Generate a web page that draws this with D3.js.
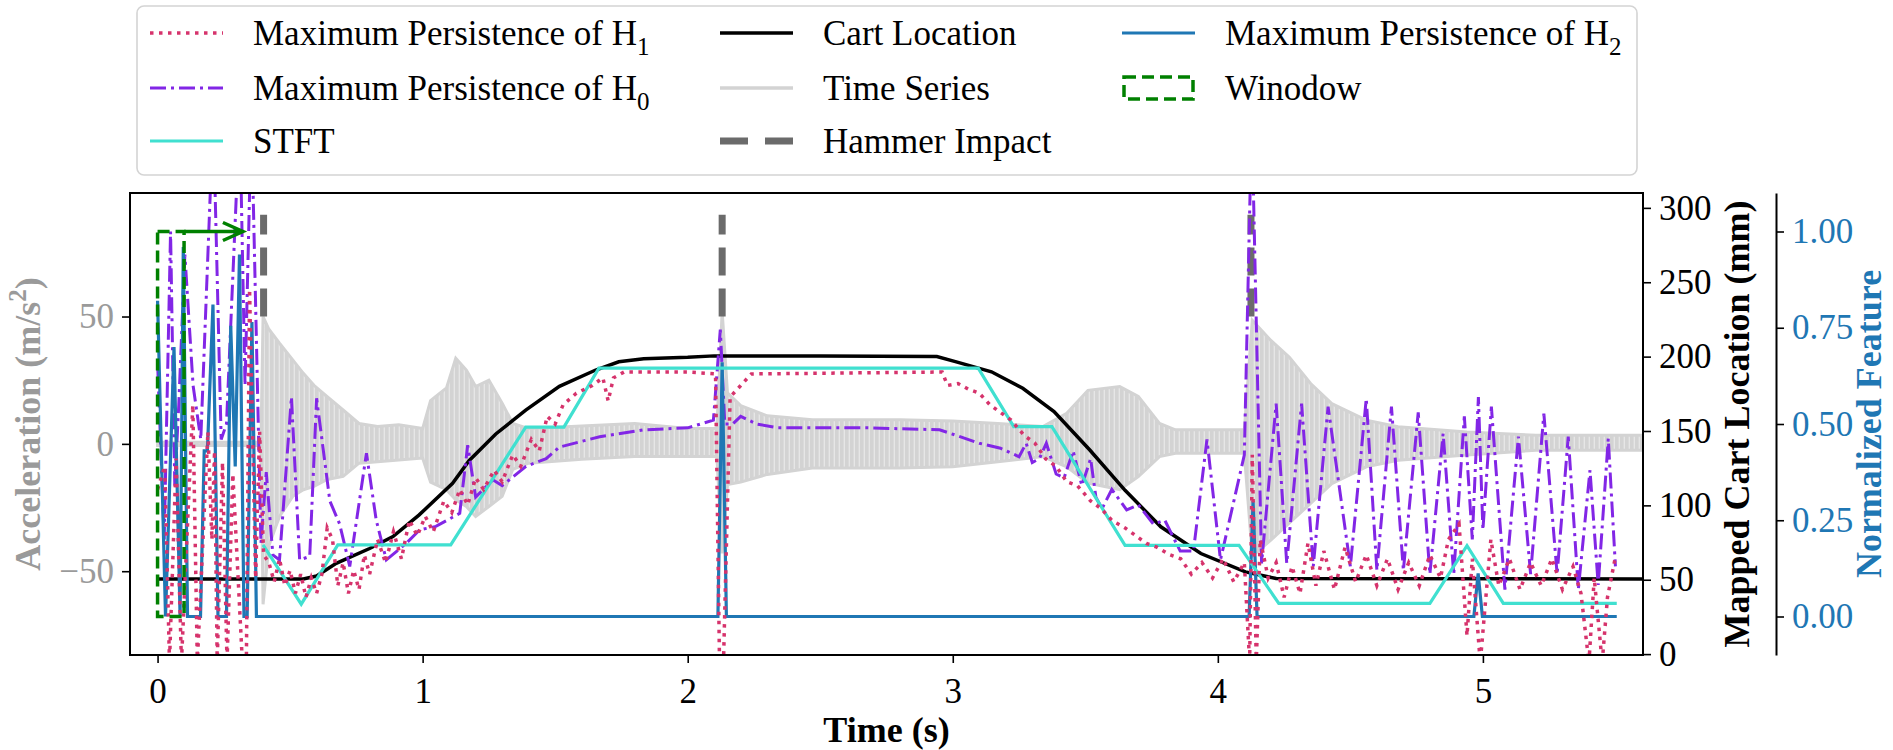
<!DOCTYPE html>
<html>
<head>
<meta charset="utf-8">
<script src="https://cdn.jsdelivr.net/npm/d3@7"></script>
<style>
  body { margin: 0; background: #fff; }
  svg { display: block; font-family: "Liberation Serif", "DejaVu Serif", "Times New Roman", serif; }
</style>
</head>
<body>
<script>
"use strict";

// time (s) ticks
const xTicks = [0, 1, 2, 3, 4, 5];
const accTicks = [-50, 0, 50];
const cartTicks = [0, 50, 100, 150, 200, 250, 300];
const normTicks = [0, 0.25, 0.5, 0.75, 1.0];

// acceleration time series, read as an envelope [t, upper, lower] (m/s^2)
const timeSeries = [
  [0, 0.6, -0.6], [0.39, 0.6, -0.6], [0.398, 50, -63], [0.42, 45, -40], [0.46, 39.5, -28.5],
  [0.51, 33, -20.6], [0.55, 27.7, -18], [0.59, 23, -16.7], [0.64, 18.5, -14], [0.70, 13.3, -12.8],
  [0.76, 8, -7.6], [0.83, 6.8, -7], [0.91, 7.5, -6.3], [1.00, 6, -5.6], [1.03, 17, -15],
  [1.09, 22, -18], [1.125, 33.6, -22], [1.165, 29, -24.6], [1.20, 22.5, -28.5], [1.25, 25, -24.6],
  [1.30, 16, -20.6], [1.34, 8, -10], [1.40, 6, -7.6], [1.60, 7, -6], [1.80, 8, -5],
  [2.00, 6, -5], [2.11, 6, -5], [2.13, 52, -43], [2.15, 20, -16], [2.20, 15, -15],
  [2.30, 11, -12], [2.47, 9.5, -9.5], [2.80, 9.5, -9.5], [3.00, 9, -9], [3.17, 8, -7],
  [3.34, 6.8, -5], [3.43, 12, -9], [3.51, 21, -15.4], [3.63, 22.5, -18], [3.70, 18.6, -12.8],
  [3.78, 8, -5], [3.84, 5.5, -3.7], [4.10, 5.5, -3.7], [4.13, 48.5, -44], [4.20, 40.6, -37.8],
  [4.27, 34, -31], [4.35, 23.7, -23.4], [4.43, 15.8, -15.6], [4.56, 9.3, -9], [4.68, 6.7, -6.4],
  [4.94, 4.7, -4.4], [5.20, 3.4, -2.5], [5.60, 3.4, -2.5]
];

// hammer impacts (s) and the acceleration span of their marks
const hammerTimes = [0.40, 2.13, 4.125];
const hammerSpan = [50, 90];

// cart location (mm)
const cartLocation = [
  [0, 50.5], [0.55, 50.5], [0.6, 52.5], [0.674, 61], [0.8, 71], [0.888, 79], [0.987, 93.6],
  [1.113, 114.8], [1.175, 130], [1.276, 148], [1.389, 164], [1.516, 180], [1.653, 191],
  [1.74, 196.5], [1.834, 198.5], [2.0, 199.5], [2.1, 200.5], [2.5, 200.5], [2.94, 200],
  [3.01, 196.6], [3.146, 189.8], [3.264, 178.7], [3.382, 163], [3.517, 137.2], [3.65, 110.1],
  [3.785, 85.6], [3.936, 67.6], [4.104, 55.3], [4.22, 50.8], [5.62, 50.5]
];

// normalized features
const persistH2 = [
  [0, 0.82], [0.03, 0], [0.062, 0.70], [0.085, 0], [0.097, 0.96], [0.113, 0], [0.162, 0],
  [0.176, 0.43], [0.188, 0.43], [0.209, 0.81], [0.228, 0], [0.26, 0], [0.276, 0.755],
  [0.293, 0.39], [0.309, 0.94], [0.326, 0], [0.338, 0], [0.356, 0.765], [0.373, 0],
  [2.114, 0], [2.13, 0.66], [2.146, 0], [4.118, 0], [4.133, 0.30], [4.148, 0],
  [4.966, 0], [4.982, 0.112], [4.998, 0], [5.505, 0]
];

const stft = [
  [0.398, 0.186], [0.542, 0.032], [0.68, 0.186], [1.106, 0.186], [1.389, 0.492], [1.533, 0.492],
  [1.665, 0.645], [3.096, 0.645], [3.23, 0.493], [3.374, 0.493], [3.65, 0.185], [4.08, 0.185],
  [4.23, 0.034], [4.80, 0.034], [4.94, 0.184], [5.077, 0.034], [5.505, 0.034]
];

const persistH0 = [
  [0, 0.66], [0.025, 0.2], [0.049, 1.0], [0.065, 0.34], [0.08, 0.55], [0.103, 0.94],
  [0.134, 0.6], [0.163, 0.46], [0.21, 1.3], [0.24, 0.46], [0.26, 0.5], [0.31, 1.3],
  [0.33, 0.6], [0.354, 1.3], [0.39, 0.19], [0.41, 0.375], [0.435, 0.16], [0.46, 0.147],
  [0.505, 0.57], [0.536, 0.147], [0.574, 0.156], [0.6, 0.567], [0.65, 0.30], [0.687, 0.24],
  [0.725, 0.13], [0.788, 0.424], [0.825, 0.25], [0.863, 0.147], [0.938, 0.19], [0.989, 0.225],
  [1.05, 0.234], [1.14, 0.268], [1.17, 0.445], [1.2, 0.31], [1.265, 0.355], [1.3, 0.34],
  [1.39, 0.39], [1.466, 0.41], [1.516, 0.44], [1.668, 0.467], [1.836, 0.485], [2.0, 0.49],
  [2.097, 0.51], [2.123, 0.745], [2.14, 0.5], [2.17, 0.5], [2.2, 0.52], [2.26, 0.5],
  [2.34, 0.49], [2.51, 0.49], [2.68, 0.49], [2.95, 0.485], [3.015, 0.47], [3.1, 0.45],
  [3.18, 0.437], [3.25, 0.415], [3.277, 0.45], [3.30, 0.40], [3.327, 0.41], [3.353, 0.45],
  [3.39, 0.37], [3.42, 0.36], [3.454, 0.43], [3.487, 0.34], [3.52, 0.41], [3.54, 0.31],
  [3.563, 0.28], [3.60, 0.33], [3.656, 0.277], [3.70, 0.29], [3.757, 0.24], [3.80, 0.25],
  [3.858, 0.17], [3.908, 0.17], [3.959, 0.46], [4.01, 0.147], [4.10, 0.42], [4.128, 1.3],
  [4.165, 0.138], [4.22, 0.553], [4.26, 0.138], [4.316, 0.553], [4.36, 0.13], [4.416, 0.545],
  [4.5, 0.13], [4.56, 0.566], [4.6, 0.12], [4.655, 0.545], [4.7, 0.12], [4.756, 0.53],
  [4.8, 0.11], [4.85, 0.475], [4.89, 0.11], [4.93, 0.52], [4.96, 0.2], [4.983, 0.57],
  [5.0, 0.225], [5.032, 0.545], [5.083, 0.07], [5.134, 0.467], [5.18, 0.11], [5.23, 0.527],
  [5.28, 0.11], [5.322, 0.467], [5.36, 0.07], [5.404, 0.38], [5.435, 0.082], [5.473, 0.462],
  [5.5, 0.13]
];

const persistH1 = [
  [0.0, 0.33], [0.027, 0.39], [0.045, -0.12], [0.07, 0.41], [0.09, -0.12], [0.133, 0.55],
  [0.15, -0.12], [0.19, 0.48], [0.205, 0.2], [0.215, 0.43], [0.225, -0.12], [0.245, 0.40],
  [0.262, -0.12], [0.284, 0.37], [0.32, -0.12], [0.335, -0.12], [0.347, 0.85], [0.37, 0.1],
  [0.385, 0.48], [0.40, 0.16], [0.42, 0.14], [0.44, 0.09], [0.46, 0.15], [0.48, 0.08],
  [0.50, 0.12], [0.52, 0.06], [0.54, 0.11], [0.56, 0.05], [0.58, 0.1], [0.60, 0.06],
  [0.62, 0.11], [0.64, 0.23], [0.66, 0.2], [0.68, 0.08], [0.70, 0.14], [0.72, 0.06],
  [0.74, 0.12], [0.76, 0.07], [0.78, 0.16], [0.80, 0.11], [0.83, 0.2], [0.86, 0.14],
  [0.89, 0.22], [0.92, 0.15], [0.95, 0.25], [0.98, 0.21], [1.01, 0.26], [1.04, 0.22],
  [1.08, 0.3], [1.11, 0.27], [1.14, 0.33], [1.17, 0.29], [1.2, 0.36], [1.23, 0.33],
  [1.27, 0.38], [1.3, 0.35], [1.34, 0.42], [1.37, 0.39], [1.41, 0.46], [1.44, 0.43],
  [1.47, 0.52], [1.5, 0.5], [1.53, 0.55], [1.58, 0.58], [1.64, 0.60], [1.68, 0.62],
  [1.70, 0.56], [1.72, 0.62], [1.76, 0.635], [2.0, 0.635], [2.105, 0.63], [2.12, -0.12],
  [2.135, -0.12], [2.16, 0.57], [2.2, 0.6], [2.24, 0.63], [2.96, 0.635], [2.98, 0.60],
  [3.02, 0.605], [3.06, 0.59], [3.1, 0.58], [3.14, 0.55], [3.18, 0.53], [3.22, 0.51],
  [3.27, 0.47], [3.31, 0.45], [3.35, 0.41], [3.39, 0.39], [3.43, 0.35], [3.47, 0.34],
  [3.52, 0.3], [3.56, 0.28], [3.6, 0.25], [3.65, 0.23], [3.69, 0.21], [3.73, 0.19],
  [3.77, 0.18], [3.82, 0.16], [3.86, 0.15], [3.90, 0.11], [3.94, 0.14], [3.98, 0.1],
  [4.02, 0.15], [4.06, 0.09], [4.1, 0.14], [4.12, -0.12], [4.13, 0.42], [4.145, -0.12],
  [4.16, 0.2], [4.19, 0.1], [4.22, 0.14], [4.25, 0.05], [4.28, 0.13], [4.31, 0.06],
  [4.34, 0.19], [4.37, 0.08], [4.40, 0.17], [4.44, 0.07], [4.48, 0.18], [4.52, 0.09],
  [4.56, 0.16], [4.6, 0.08], [4.64, 0.15], [4.68, 0.07], [4.72, 0.14], [4.76, 0.08],
  [4.80, 0.16], [4.84, 0.1], [4.87, 0.2], [4.91, 0.24], [4.94, -0.05], [4.96, 0.15],
  [4.99, -0.12], [5.03, 0.2], [5.06, 0.08], [5.1, 0.15], [5.14, 0.07], [5.18, 0.14],
  [5.22, 0.08], [5.26, 0.15], [5.3, 0.07], [5.34, 0.13], [5.37, 0.06], [5.40, -0.12],
  [5.42, 0.1], [5.45, -0.12], [5.47, 0.05], [5.5, 0.155]
];

// sliding window [start, end] (s) and the arrow end (s)
const windowSpan = [0, 0.1];
const arrowEnd = 0.322;

const W = 1893, H = 750;
const pLeft = 130, pRight = 1643, pTop = 193, pBottom = 655;
const thirdSpine = 1776;

const colors = {
  h1: "#d6336c", h0: "#8226e6", stft: "#40e0d0", cart: "#000000",
  ts: "#d3d3d3", hammer: "#6b6b6b", h2: "#1f77b4", win: "#008000", accText: "#9a9a9a"
};

const svg = d3.select("body").append("svg")
  .attr("width", W).attr("height", H);

const x = d3.scaleLinear().domain([-0.104, 5.604]).range([pLeft, pRight]);
const yAcc = d3.scaleLinear().domain([-82.9, 98.5]).range([pBottom, pTop]);
const yCart = d3.scaleLinear().domain([-0.6, 310]).range([pBottom, pTop]);
const yNorm = d3.scaleLinear().domain([-0.1, 1.1]).range([pBottom, pTop]);

const defs = svg.append("defs");
defs.append("clipPath").attr("id", "plotClip")
  .append("rect").attr("x", pLeft).attr("y", pTop)
  .attr("width", pRight - pLeft).attr("height", pBottom - pTop);

// vertical ripple texture for the dense oscillation band
const ripple = defs.append("pattern").attr("id", "ripple")
  .attr("patternUnits", "userSpaceOnUse").attr("width", 5).attr("height", 10);
ripple.append("rect").attr("width", 5).attr("height", 10).attr("fill", "#e6e6e6");
ripple.append("rect").attr("width", 3.6).attr("height", 10).attr("fill", colors.ts);

const plot = svg.append("g").attr("clip-path", "url(#plotClip)");

// time series envelope
plot.append("path")
  .datum(timeSeries)
  .attr("d", d3.area().x(d => x(d[0])).y0(d => yAcc(d[2])).y1(d => yAcc(d[1])))
  .attr("fill", "url(#ripple)")
  .attr("stroke", colors.ts)
  .attr("stroke-width", 3);

// hammer impacts
plot.selectAll(".hammer")
  .data(hammerTimes)
  .enter()
  .append("line")
  .attr("x1", d => x(d)).attr("x2", d => x(d))
  .attr("y1", yAcc(hammerSpan[0])).attr("y2", yAcc(hammerSpan[1]))
  .attr("stroke", colors.hammer)
  .attr("stroke-width", 7)
  .attr("stroke-dasharray", "28 13");

// cart location
plot.append("path")
  .datum(cartLocation)
  .attr("d", d3.line().x(d => x(d[0])).y(d => yCart(d[1])))
  .attr("fill", "none")
  .attr("stroke", colors.cart)
  .attr("stroke-width", 3.5);

const normLine = d3.line().x(d => x(d[0])).y(d => yNorm(d[1]));

plot.append("path")
  .datum(persistH0)
  .attr("d", normLine)
  .attr("fill", "none")
  .attr("stroke", colors.h0)
  .attr("stroke-width", 3)
  .attr("stroke-dasharray", "16 5 3 5");

plot.append("path")
  .datum(persistH2)
  .attr("d", normLine)
  .attr("fill", "none")
  .attr("stroke", colors.h2)
  .attr("stroke-width", 3.2);

plot.append("path")
  .datum(stft)
  .attr("d", normLine)
  .attr("fill", "none")
  .attr("stroke", colors.stft)
  .attr("stroke-width", 3.2);

plot.append("path")
  .datum(persistH1)
  .attr("d", normLine)
  .attr("fill", "none")
  .attr("stroke", colors.h1)
  .attr("stroke-width", 3.5)
  .attr("stroke-dasharray", "3.5 5.5");

// window and sliding arrow
plot.append("rect")
  .attr("x", x(windowSpan[0])).attr("y", yNorm(1))
  .attr("width", x(windowSpan[1]) - x(windowSpan[0]))
  .attr("height", yNorm(0) - yNorm(1))
  .attr("fill", "none")
  .attr("stroke", colors.win)
  .attr("stroke-width", 3.5)
  .attr("stroke-dasharray", "12 6");

const tipX = x(arrowEnd), tipY = yNorm(1);
plot.append("path")
  .attr("d", `M${x(windowSpan[1])},${tipY} L${tipX},${tipY} M${tipX - 20},${tipY - 9} L${tipX},${tipY} L${tipX - 20},${tipY + 9}`)
  .attr("fill", "none")
  .attr("stroke", colors.win)
  .attr("stroke-width", 3.5);

// frame
svg.append("rect")
  .attr("x", pLeft).attr("y", pTop)
  .attr("width", pRight - pLeft).attr("height", pBottom - pTop)
  .attr("fill", "none").attr("stroke", "#000").attr("stroke-width", 2);

const minus = d => (d < 0 ? "\u2212" + Math.abs(d) : String(d));
const serif = "'Liberation Serif', 'DejaVu Serif', 'Times New Roman', serif";

function styleAxis(g, color) {
  g.select(".domain").remove();
  g.selectAll(".tick line").attr("stroke", "#000").attr("stroke-width", 1.6);
  g.selectAll(".tick text")
    .attr("fill", color)
    .style("font-size", "35px")
    .style("font-family", serif);
}

svg.append("g")
  .attr("transform", `translate(0,${pBottom})`)
  .call(d3.axisBottom(x).tickValues(xTicks).tickSize(8).tickPadding(15).tickFormat(d3.format("d")))
  .call(g => styleAxis(g, "#000"));

svg.append("g")
  .attr("transform", `translate(${pLeft},0)`)
  .call(d3.axisLeft(yAcc).tickValues(accTicks).tickSize(8).tickPadding(8).tickFormat(minus))
  .call(g => styleAxis(g, colors.accText));

svg.append("g")
  .attr("transform", `translate(${pRight},0)`)
  .call(d3.axisRight(yCart).tickValues(cartTicks).tickSize(8).tickPadding(8))
  .call(g => styleAxis(g, "#000"));

const normAxis = svg.append("g")
  .attr("transform", `translate(${thirdSpine},0)`)
  .call(d3.axisRight(yNorm).tickValues(normTicks).tickSize(8).tickSizeOuter(0).tickPadding(8).tickFormat(d3.format(".2f")));
normAxis.selectAll(".tick line").attr("stroke", "#000").attr("stroke-width", 1.6);
normAxis.select(".domain").attr("stroke", "#000").attr("stroke-width", 2);
normAxis.selectAll(".tick text")
  .attr("fill", colors.h2)
  .style("font-size", "35px")
  .style("font-family", serif);

// axis titles
svg.append("text")
  .attr("x", (pLeft + pRight) / 2).attr("y", 742)
  .attr("text-anchor", "middle")
  .style("font-family", serif).style("font-size", "36px").style("font-weight", "bold")
  .text("Time (s)");

const accLabel = svg.append("text")
  .attr("transform", `translate(40,${(pTop + pBottom) / 2}) rotate(-90)`)
  .attr("text-anchor", "middle")
  .attr("fill", colors.accText)
  .style("font-family", serif).style("font-size", "36px").style("font-weight", "bold");
accLabel.append("tspan").text("Acceleration (m/s");
accLabel.append("tspan").attr("dy", -14).style("font-size", "25px").text("2");
accLabel.append("tspan").attr("dy", 14).text(")");

svg.append("text")
  .attr("transform", `translate(1749,${(pTop + pBottom) / 2}) rotate(-90)`)
  .attr("text-anchor", "middle")
  .style("font-family", serif).style("font-size", "36px").style("font-weight", "bold")
  .text("Mapped Cart Location (mm)");

svg.append("text")
  .attr("transform", `translate(1881,${(pTop + pBottom) / 2}) rotate(-90)`)
  .attr("text-anchor", "middle")
  .attr("fill", colors.h2)
  .style("font-family", serif).style("font-size", "36px").style("font-weight", "bold")
  .text("Normalized Feature");

// legend
const legendLabels = [
  { name: "Maximum Persistence of H", sub: "1", col: 0, row: 0, kind: "h1" },
  { name: "Maximum Persistence of H", sub: "0", col: 0, row: 1, kind: "h0" },
  { name: "STFT", col: 0, row: 2, kind: "stft" },
  { name: "Cart Location", col: 1, row: 0, kind: "cart" },
  { name: "Time Series", col: 1, row: 1, kind: "ts" },
  { name: "Hammer Impact", col: 1, row: 2, kind: "hammer" },
  { name: "Maximum Persistence of H", sub: "2", col: 2, row: 0, kind: "h2" },
  { name: "Winodow", col: 2, row: 1, kind: "win" }
];
const legendCols = [150, 720, 1122];
const legendRows = [33, 88, 141];
const handleLen = 73;

const legend = svg.append("g");
legend.append("rect")
  .attr("x", 137).attr("y", 6).attr("width", 1500).attr("height", 169)
  .attr("rx", 7)
  .attr("fill", "#fff").attr("fill-opacity", 0.8)
  .attr("stroke", "#d4d4d4").attr("stroke-width", 1.6);

const handleStyle = {
  h1: { stroke: colors.h1, w: 3.5, dash: "3.5 5.5" },
  h0: { stroke: colors.h0, w: 3, dash: "16 5 3 5" },
  stft: { stroke: colors.stft, w: 3.2, dash: null },
  cart: { stroke: colors.cart, w: 3.5, dash: null },
  ts: { stroke: colors.ts, w: 3.5, dash: null },
  hammer: { stroke: colors.hammer, w: 7, dash: "28 17" },
  h2: { stroke: colors.h2, w: 3.2, dash: null }
};

legendLabels.forEach(e => {
  const x0 = legendCols[e.col], yy = legendRows[e.row];
  if (e.kind === "win") {
    legend.append("rect")
      .attr("x", x0 + 2).attr("y", yy - 11).attr("width", handleLen - 4).attr("height", 22)
      .attr("fill", "none").attr("stroke", colors.win)
      .attr("stroke-width", 3.5).attr("stroke-dasharray", "12 6");
  } else {
    const s = handleStyle[e.kind];
    legend.append("line")
      .attr("x1", x0).attr("x2", x0 + handleLen).attr("y1", yy).attr("y2", yy)
      .attr("stroke", s.stroke).attr("stroke-width", s.w)
      .attr("stroke-dasharray", s.dash);
  }
  const t = legend.append("text")
    .attr("x", x0 + handleLen + 30).attr("y", yy + 12)
    .style("font-family", serif).style("font-size", "35px");
  t.append("tspan").text(e.name);
  if (e.sub) {
    t.append("tspan").attr("dy", 10).style("font-size", "25px").text(e.sub);
  }
});
</script>
</body>
</html>
